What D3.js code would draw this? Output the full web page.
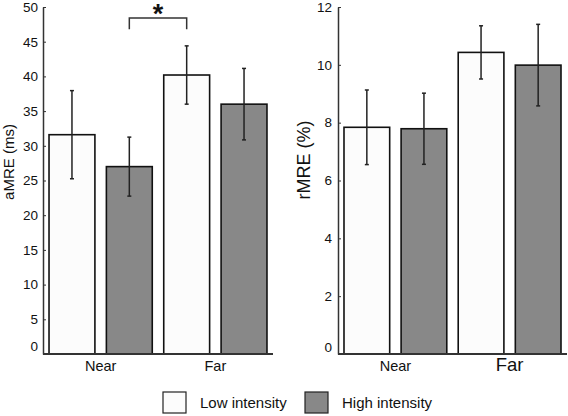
<!DOCTYPE html>
<html><head><meta charset="utf-8">
<script src="https://cdn.jsdelivr.net/npm/d3@7"></script>
<style>
html,body{margin:0;padding:0;background:#fff;}
svg{display:block;font-family:"Liberation Sans",Arial,Helvetica,sans-serif;}
</style></head>
<body><svg id="chart" width="568" height="416"></svg>
<script>
// ---- data ----
const categories = ["Near", "Far"];
const seriesNames = ["Low intensity", "High intensity"];
const aMRE_low = [31.6, 40.2];
const aMRE_high = [27.0, 36.0];
const aMRE_low_err = [6.35, 4.2];
const aMRE_high_err = [4.25, 5.15];
const rMRE_low = [7.84, 10.43];
const rMRE_high = [7.79, 9.99];
const rMRE_low_err = [1.29, 0.92];
const rMRE_high_err = [1.23, 1.41];
const aTicks = [0, 5, 10, 15, 20, 25, 30, 35, 40, 45, 50];
const rTicks = [0, 2, 4, 6, 8, 10, 12];
const seriesFill = ["#fcfcfc", "#888888"];

const svg = d3.select("#chart");
const yTop = 7, yBot = 354;

function panel(opt) {
  const g = svg.append("g");
  const keys = [];
  categories.forEach(c => seriesNames.forEach(s => keys.push(c + "|" + s)));
  const x = d3.scaleBand().domain(keys).range([opt.x0, opt.x1])
    .paddingInner(0.2).paddingOuter(0.105);
  const y = d3.scaleLinear().domain(opt.domain).range([yBot, yTop]);
  const rows = [];
  categories.forEach((c, i) => {
    rows.push({key: c + "|" + seriesNames[0], s: 0, v: opt.low[i], e: opt.lowErr[i]});
    rows.push({key: c + "|" + seriesNames[1], s: 1, v: opt.high[i], e: opt.highErr[i]});
  });
  // bars
  g.selectAll("rect.bar").data(rows).join("rect")
    .attr("class", "bar")
    .attr("x", d => x(d.key)).attr("width", x.bandwidth())
    .attr("y", d => y(d.v)).attr("height", d => y(0) - y(d.v))
    .attr("fill", d => seriesFill[d.s])
    .attr("stroke", "#111").attr("stroke-width", 1.6);
  // error bars
  const eb = g.selectAll("g.err").data(rows).join("g").attr("class", "err")
    .attr("stroke", "#222").attr("stroke-width", 1.5);
  eb.append("line")
    .attr("x1", d => x(d.key) + x.bandwidth() / 2).attr("x2", d => x(d.key) + x.bandwidth() / 2)
    .attr("y1", d => y(d.v + d.e)).attr("y2", d => y(d.v - d.e));
  [1, -1].forEach(sgn => {
    eb.append("line")
      .attr("x1", d => x(d.key) + x.bandwidth() / 2 - 2).attr("x2", d => x(d.key) + x.bandwidth() / 2 + 2)
      .attr("y1", d => y(d.v + sgn * d.e)).attr("y2", d => y(d.v + sgn * d.e));
  });
  // y axis
  const ax = g.append("g").attr("transform", `translate(${opt.x0},0)`)
    .call(d3.axisLeft(y).tickValues(opt.ticks).tickSizeInner(-3).tickSizeOuter(0)
      .tickPadding(opt.pad).tickFormat(d3.format("d")));
  ax.select(".domain").attr("stroke", "#333").attr("stroke-width", 1.5);
  ax.selectAll(".tick line").attr("stroke", "#333").attr("stroke-width", 1);
  ax.selectAll(".tick text").attr("font-size", 13.5).attr("fill", "#111")
    .attr("font-family", "Liberation Sans, Arial, sans-serif")
    .filter(d => d === 0).attr("dy", opt.zeroDy);
  // baseline
  g.append("line").attr("x1", opt.x0).attr("x2", opt.x1)
    .attr("y1", y(0)).attr("y2", y(0)).attr("stroke", "#333").attr("stroke-width", 2);
  // category labels
  categories.forEach((c, i) => {
    const cx = (x(c + "|" + seriesNames[0]) + x(c + "|" + seriesNames[1]) + x.bandwidth()) / 2;
    g.append("text").attr("x", cx).attr("y", 371).attr("text-anchor", "middle")
      .attr("font-size", opt.catSize[i]).attr("fill", "#111").text(c);
  });
  // y label
  g.append("text").attr("transform", `translate(${opt.labelX},${opt.labelY}) rotate(-90)`)
    .attr("text-anchor", "middle").attr("font-size", opt.labelSize).attr("fill", "#111")
    .text(opt.label);
  return {x, y, g};
}

const left = panel({x0: 43, x1: 273, domain: [0, 50], ticks: aTicks, low: aMRE_low, high: aMRE_high,
  lowErr: aMRE_low_err, highErr: aMRE_high_err, pad: 5, zeroDy: "-0.25em",
  catSize: [14.5, 14.5], label: "aMRE (ms)", labelX: 14, labelY: 162, labelSize: 15});
const right = panel({x0: 338, x1: 567, domain: [0, 12], ticks: rTicks, low: rMRE_low, high: rMRE_high,
  lowErr: rMRE_low_err, highErr: rMRE_high_err, pad: 6, zeroDy: "-0.15em",
  catSize: [14.5, 18.5], label: "rMRE (%)", labelX: 310, labelY: 160, labelSize: 18});

// significance bracket between Near-High and Far-Low (left panel)
{
  const {x, y, g} = left;
  const bx1 = x(categories[0] + "|" + seriesNames[1]) + x.bandwidth() / 2;
  const bx2 = x(categories[1] + "|" + seriesNames[0]) + x.bandwidth() / 2;
  const yb = y(48.4), yd = y(46.8);
  g.append("path").attr("d", `M${bx1},${yd}V${yb}H${bx2}V${yd}`)
    .attr("fill", "none").attr("stroke", "#333").attr("stroke-width", 1.5);
  g.append("text").attr("x", (bx1 + bx2) / 2).attr("y", 23).attr("text-anchor", "middle")
    .attr("font-size", 27).attr("font-weight", "bold").attr("fill", "#111").text("*");
}

// legend
const legX = [163, 305];
const leg = svg.append("g");
seriesNames.forEach((s, i) => {
  leg.append("rect").attr("x", legX[i]).attr("y", 392).attr("width", 23).attr("height", 21)
    .attr("fill", seriesFill[i]).attr("stroke", "#222").attr("stroke-width", 1.2);
  leg.append("text").attr("x", legX[i] + 37).attr("y", 408).attr("font-size", 15)
    .attr("fill", "#111").text(s);
});
</script></body></html>
